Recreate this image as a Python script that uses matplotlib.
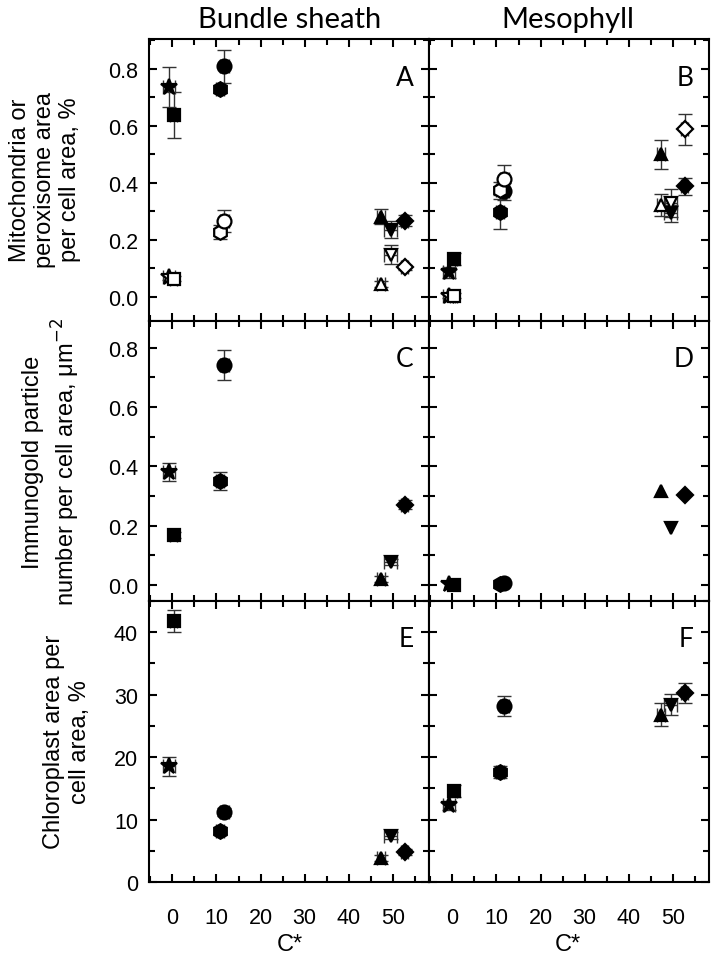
import numpy as np
import matplotlib
matplotlib.use("Agg")
import matplotlib.pyplot as plt
from matplotlib.ticker import MultipleLocator

# C* value of each species (x position), same order in every panel
cstar = [-0.8, 0.3, 10.8, 11.8, 47.3, 49.5, 52.7]
cstar_err = [1.3, 0.8, 0.8, 1.0, 1.0, 1.5, 0.8]
markers = ['*', 's', 'h', 'o', '^', 'v', 'D']
msizes = [12, 8, 10.5, 10, 9, 9, 8]

# A: bundle sheath, mitochondria (filled) / peroxisome (open) area, %
mito_bs = [0.737, 0.638, 0.729, 0.808, 0.281, 0.235, 0.267]
mito_bs_err = [0.07, 0.08, 0.015, 0.059, 0.027, 0.03, 0.02]
perox_bs = [0.069, 0.064, 0.226, 0.266, 0.045, 0.148, 0.103]
perox_bs_err = [0.01, 0.01, 0.025, 0.04, 0.01, 0.033, 0.01]

# B: mesophyll
mito_m = [0.086, 0.133, 0.298, 0.37, 0.499, 0.293, 0.387]
mito_m_err = [0.02, 0.02, 0.06, 0.03, 0.05, 0.03, 0.03]
perox_m = [0.004, 0.004, 0.374, 0.413, 0.322, 0.328, 0.587]
perox_m_err = [0.01, 0.01, 0.03, 0.05, 0.038, 0.05, 0.055]

# C, D: immunogold particles per cell area, um-2
gold_bs = [0.380, 0.169, 0.350, 0.741, 0.021, 0.076, 0.270]
gold_bs_err = [0.03, 0.01, 0.03, 0.05, 0.01, 0.01, 0.015]
gold_m = [0.003, 0.001, 0.004, 0.007, 0.318, 0.192, 0.304]
gold_m_err = [0, 0, 0, 0, 0, 0, 0]

# E, F: chloroplast area per cell area, %
chl_bs = [18.5, 41.8, 8.24, 11.2, 3.85, 7.44, 4.8]
chl_bs_err = [1.5, 1.7, 0.5, 0.6, 0.5, 0.6, 0.5]
chl_m = [12.26, 14.56, 17.6, 28.2, 26.8, 28.4, 30.2]
chl_m_err = [0.7, 1.0, 1.0, 1.6, 1.8, 1.7, 1.6]

plt.rcParams['font.family'] = ['Liberation Sans', 'DejaVu Sans']
fig = plt.figure(figsize=(7.14, 9.70), dpi=100)

left, width = 149 / 714, 280 / 714
tops = [40, 322, 602]
heights = [282, 280, 281]
axes = []
for r in range(3):
    row = []
    for c in range(2):
        b = 1 - (tops[r] + heights[r]) / 970
        ax = fig.add_axes([left + c * width, b, width, heights[r] / 970])
        row.append(ax)
    axes.append(row)


def draw(ax, y, yerr, filled=True, show_err=True):
    for i in range(len(cstar)):
        fc = 'black' if filled else 'white'
        if show_err:
            ax.errorbar(cstar[i], y[i], yerr=yerr[i], xerr=cstar_err[i], fmt='none',
                        ecolor='#333333', elinewidth=1, capsize=5, capthick=1, zorder=2)
        ax.plot(cstar[i], y[i], marker=markers[i], ms=msizes[i], mfc=fc, mec='black',
                mew=1.6, ls='none', zorder=3)


draw(axes[0][0], mito_bs, mito_bs_err)
draw(axes[0][0], perox_bs, perox_bs_err, filled=False)
draw(axes[0][1], mito_m, mito_m_err)
draw(axes[0][1], perox_m, perox_m_err, filled=False)
draw(axes[1][0], gold_bs, gold_bs_err)
draw(axes[1][1], gold_m, gold_m_err, show_err=False)
draw(axes[2][0], chl_bs, chl_bs_err)
draw(axes[2][1], chl_m, chl_m_err)

letters = [['A', 'B'], ['C', 'D'], ['E', 'F']]
for r in range(3):
    for c in range(2):
        ax = axes[r][c]
        ax.set_xlim(-5.3, 58.2)
        ax.xaxis.set_major_locator(MultipleLocator(10))
        ax.xaxis.set_minor_locator(MultipleLocator(5))
        if r < 2:
            ax.set_ylim(-0.085 if r == 0 else -0.054, 0.904 if r == 0 else 0.89)
            ax.yaxis.set_major_locator(MultipleLocator(0.2))
            ax.yaxis.set_minor_locator(MultipleLocator(0.1))
            ax.yaxis.set_major_formatter(lambda v, p: '%.1f' % v)
        else:
            ax.set_ylim(0, 45)
            ax.yaxis.set_major_locator(MultipleLocator(10))
            ax.yaxis.set_minor_locator(MultipleLocator(5))
        ax.tick_params(which='both', direction='in', top=True, right=True,
                       width=1.5, labelsize=15.5)
        ax.tick_params(axis='y', pad=8)
        ax.tick_params(axis='x', pad=18)
        ax.tick_params(which='major', length=6)
        ax.tick_params(which='minor', length=4)
        for s in ax.spines.values():
            s.set_linewidth(1.5)
        if c == 1:
            ax.tick_params(labelleft=False)
        if r < 2:
            ax.tick_params(labelbottom=False)
        ax.text(0.945, 0.865, letters[r][c], transform=ax.transAxes, ha='right', va='center',
                fontsize=19, family=['Lato', 'DejaVu Sans'])

fig.text(290 / 714, 1 - 20 / 970, 'Bundle sheath', ha='center', va='center', fontsize=21,
         family=['Lato', 'DejaVu Sans'])
fig.text(568 / 714, 1 - 20 / 970, 'Mesophyll', ha='center', va='center', fontsize=21,
         family=['Lato', 'DejaVu Sans'])

fig.text(45 / 714, 1 - 180 / 970, 'Mitochondria or\nperoxisome area\nper cell area, %',
         rotation=90, ha='center', va='center', fontsize=17, multialignment='center',
         linespacing=1.2)
fig.text(52 / 714, 1 - 462 / 970, 'Immunogold particle\nnumber per cell area, μm$^{-2}$',
         rotation=90, ha='center', va='center', fontsize=17, multialignment='center',
         linespacing=1.2)
fig.text(67 / 714, 1 - 742 / 970, 'Chloroplast area per\ncell area, %',
         rotation=90, ha='center', va='center', fontsize=17, multialignment='center',
         linespacing=1.2)

fig.text(290 / 714, 1 - 945 / 970, 'C*', ha='center', va='center', fontsize=17)
fig.text(568 / 714, 1 - 945 / 970, 'C*', ha='center', va='center', fontsize=17)

fig.savefig('out.png', dpi=100)
